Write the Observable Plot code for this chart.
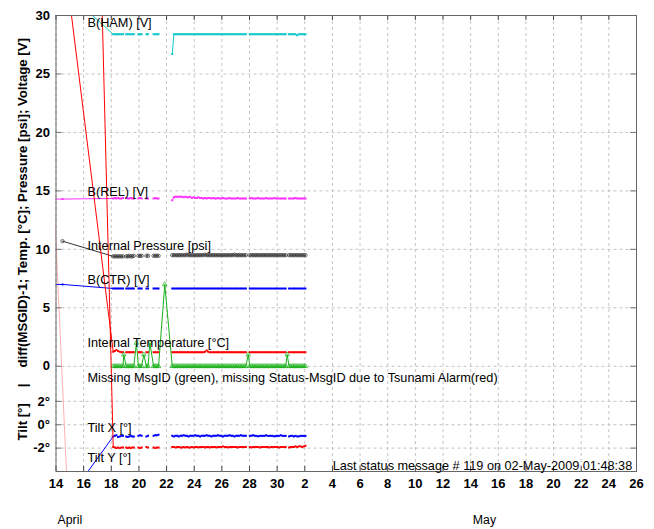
<!DOCTYPE html>
<html><head><meta charset="utf-8">
<script src="https://cdn.jsdelivr.net/npm/d3@7"></script>
<script src="https://cdn.jsdelivr.net/npm/@observablehq/plot@0.6"></script>
<style>html,body{margin:0;padding:0;background:#fff} svg{display:block}</style>
</head><body><div id="chart"></div>
<script>
// ---------- axis ticks & labels (day numbers: April d = d, May d = 30 + d) ----------
const xTicks = [14,16,18,20,22,24,26,28,30,32,34,36,38,40,42,44,46,48,50,52,54,56];
const xTickLabels = ["14","16","18","20","22","24","26","28","30","2","4","6","8","10","12","14","16","18","20","22","24","26"];
const monthLabels = ["April", "May"];
const monthLabelDays = [15, 45];
const yTicks = [30, 25, 20, 15, 10, 5, 0];
const yTickLabels = ["30", "25", "20", "15", "10", "5", "0"];
const tiltTicks = [2, 0, -2];
const tiltTickLabels = ["2°", "0°", "-2°"];

// ---------- readings before deployment ----------
const preDays  = [13.3, 14.47, 14.85];
const preHam   = [null, 32.3, null];
const preRel   = [14.3, 14.3, null];
const prePress = [null, 10.7, null];
const preCtr   = [7.0, 7.0, null];
const preTemp  = [null, 36.2, null];
const preTiltX = [null, null, -6.4];
const preTiltY = [null, 169, null];
const alarmDays = [13.9, 14.85];
const alarmVals = [13.2, -11.4];

// ---------- status messages (null = telemetry gap) ----------
const msgDays = [
  18.14, 18.26, 18.37, 18.49, 18.61, 18.73, 18.85, null,
  19.08, 19.19, 19.30, 19.41, 19.52, 19.63, null,
  19.96, 20.08, 20.20, null,
  20.54, 20.66, null,
  21.06, 21.18, 21.30, 21.42, null,
  22.41, 22.53, 22.65, 22.77, 22.88, 23.00, 23.12, 23.24, 23.36, 23.48, 23.59, 23.71,
  23.83, 23.95, 24.07, 24.19, 24.30, 24.42, 24.54, 24.66, 24.78, 24.90, 25.01, 25.13,
  25.25, 25.37, 25.49, 25.61, 25.72, 25.84, 25.96, 26.08, 26.20, 26.32, 26.43, 26.55,
  26.67, 26.79, 26.91, 27.03, 27.14, 27.26, 27.38, 27.50, 27.62, 27.74, null,
  28.02, 28.14, 28.26, 28.38, 28.49, 28.61, 28.73, 28.85, 28.97, 29.09, 29.20, 29.32,
  29.44, 29.56, 29.68, 29.80, 29.91, 30.03, 30.15, 30.27, 30.39, 30.51, 30.62, null,
  30.86, 30.98, 31.10, 31.22, 31.33, 31.45, 31.57, 31.69, 31.81, 31.93, 32.05
];
const hamV = [
  28.4, 28.4, 28.4, 28.4, 28.4, 28.4, 28.4, null,
  28.4, 28.4, 28.4, 28.4, 28.4, 28.4, null,
  28.4, 28.4, 28.4, null,
  28.4, 28.4, null,
  28.4, 28.4, 28.4, 28.4, null,
  26.7, 28.4, 28.4, 28.4, 28.4, 28.4, 28.4, 28.4, 28.4, 28.4, 28.4, 28.4,
  28.4, 28.4, 28.4, 28.4, 28.4, 28.4, 28.4, 28.4, 28.4, 28.4, 28.4, 28.4,
  28.4, 28.4, 28.4, 28.4, 28.4, 28.4, 28.4, 28.4, 28.4, 28.4, 28.4, 28.4,
  28.4, 28.4, 28.4, 28.4, 28.4, 28.4, 28.4, 28.4, 28.4, 28.4, null,
  28.4, 28.4, 28.4, 28.4, 28.4, 28.4, 28.4, 28.4, 28.4, 28.4, 28.4, 28.4,
  28.4, 28.4, 28.4, 28.4, 28.4, 28.4, 28.4, 28.4, 28.4, 28.4, 28.4, null,
  28.4, 28.4, 28.4, 28.4, 28.4, 28.3, 28.4, 28.4, 28.4, 28.4, 28.4
];
const relV = [
  14.35, 14.4, 14.35, 14.4, 14.35, 14.35, 14.4, null,
  14.4, 14.35, 14.35, 14.4, 14.35, 14.35, null,
  14.35, 14.4, 14.35, null,
  14.35, 14.35, null,
  14.35, 14.4, 14.35, 14.35, null,
  14.2, 14.45, 14.5, 14.5, 14.5, 14.5, 14.5, 14.45, 14.5, 14.45, 14.45, 14.5,
  14.4, 14.45, 14.4, 14.4, 14.45, 14.4, 14.4, 14.35, 14.4, 14.35, 14.4, 14.4,
  14.35, 14.4, 14.35, 14.35, 14.4, 14.35, 14.35, 14.4, 14.35, 14.35, 14.35, 14.4,
  14.35, 14.35, 14.35, 14.35, 14.4, 14.35, 14.35, 14.35, 14.35, 14.35, null,
  14.35, 14.4, 14.35, 14.35, 14.35, 14.4, 14.35, 14.35, 14.35, 14.35, 14.4, 14.35,
  14.35, 14.35, 14.35, 14.4, 14.35, 14.35, 14.35, 14.35, 14.35, 14.35, 14.35, null,
  14.35, 14.35, 14.35, 14.35, 14.4, 14.35, 14.35, 14.35, 14.35, 14.35, 14.35
];
const pressV = [
  9.4, 9.4, 9.4, 9.4, 9.4, 9.4, 9.4, null,
  9.4, 9.4, 9.45, 9.4, 9.4, 9.45, null,
  9.45, 9.45, 9.45, null,
  9.45, 9.45, null,
  9.45, 9.45, 9.45, 9.45, null,
  9.5, 9.5, 9.5, 9.5, 9.5, 9.5, 9.5, 9.5, 9.5, 9.55, 9.5, 9.5,
  9.5, 9.5, 9.5, 9.5, 9.5, 9.5, 9.5, 9.5, 9.55, 9.5, 9.5, 9.5,
  9.5, 9.5, 9.5, 9.5, 9.5, 9.5, 9.5, 9.5, 9.5, 9.5, 9.5, 9.5,
  9.5, 9.5, 9.55, 9.5, 9.5, 9.5, 9.5, 9.5, 9.5, 9.5, null,
  9.5, 9.5, 9.5, 9.5, 9.5, 9.5, 9.5, 9.5, 9.5, 9.5, 9.5, 9.5,
  9.5, 9.5, 9.5, 9.5, 9.5, 9.5, 9.5, 9.5, 9.5, 9.5, 9.5, null,
  9.5, 9.5, 9.5, 9.5, 9.5, 9.5, 9.5, 9.5, 9.5, 9.5, 9.5
];
const ctrV = [
  6.65, 6.65, 6.65, 6.65, 6.65, 6.65, 6.65, null,
  6.65, 6.65, 6.65, 6.65, 6.65, 6.65, null,
  6.65, 6.65, 6.65, null,
  6.65, 6.65, null,
  6.65, 6.65, 6.65, 6.65, null,
  6.65, 6.65, 6.65, 6.65, 6.65, 6.65, 6.65, 6.65, 6.65, 6.65, 6.65, 6.65,
  6.65, 6.65, 6.65, 6.65, 6.65, 6.65, 6.65, 6.65, 6.65, 6.65, 6.65, 6.65,
  6.65, 6.65, 6.65, 6.65, 6.65, 6.65, 6.65, 6.65, 6.65, 6.65, 6.65, 6.65,
  6.65, 6.65, 6.65, 6.65, 6.65, 6.65, 6.65, 6.65, 6.65, 6.65, null,
  6.65, 6.65, 6.65, 6.65, 6.65, 6.65, 6.65, 6.65, 6.65, 6.65, 6.65, 6.65,
  6.65, 6.65, 6.65, 6.65, 6.65, 6.65, 6.65, 6.65, 6.65, 6.65, 6.65, null,
  6.65, 6.65, 6.65, 6.65, 6.65, 6.65, 6.65, 6.65, 6.65, 6.65, 6.65
];
const tempV = [
  1.25, 1.3, 1.4, 1.3, 1.25, 1.2, 1.2, null,
  1.2, 1.2, 1.2, 1.2, 1.2, 1.2, null,
  1.2, 1.2, 1.2, null,
  1.2, 1.2, null,
  1.2, 1.2, 1.2, 1.2, null,
  1.2, 1.2, 1.2, 1.2, 1.2, 1.2, 1.2, 1.2, 1.2, 1.2, 1.2, 1.2,
  1.2, 1.2, 1.2, 1.2, 1.2, 1.2, 1.2, 1.2, 1.25, 1.35, 1.25, 1.2,
  1.2, 1.2, 1.2, 1.2, 1.2, 1.2, 1.2, 1.2, 1.2, 1.2, 1.2, 1.2,
  1.2, 1.2, 1.2, 1.2, 1.2, 1.2, 1.2, 1.2, 1.2, 1.2, null,
  1.2, 1.2, 1.2, 1.2, 1.2, 1.2, 1.2, 1.2, 1.2, 1.2, 1.2, 1.2,
  1.2, 1.2, 1.2, 1.2, 1.2, 1.2, 1.2, 1.2, 1.2, 1.2, 1.2, null,
  1.2, 1.2, 1.2, 1.2, 1.2, 1.2, 1.2, 1.2, 1.2, 1.2, 1.2
];
const missingAtMsg = [
  0, 0, 0, 0, 0, 0, 0, null,
  0, 0, 0, 0, 0, 0, null,
  0, 0, 0, null,
  0, 0, null,
  0, 0, 0, 0, null,
  0, 0, 0, 0, 0, 0, 0, 0, 0, 0, 0, 0,
  0, 0, 0, 0, 0, 0, 0, 0, 0, 0, 0, 0,
  0, 0, 0, 0, 0, 0, 0, 0, 0, 0, 0, 0,
  0, 0, 0, 0, 0, 0, 0, 0, 0, 0, null,
  0, 0, 0, 0, 0, 0, 0, 0, 0, 0, 0, 0,
  0, 0, 0, 0, 0, 0, 0, 0, 0, 0, 0, null,
  0, 0, 0, 0, 0, 0, 0, 0, 0, 0, 0
];
const gapMidDays = [18.9, 19.82, 20.35, 20.79, 21.87, 27.91, 30.73];
const missingCounts = [1, 2, 1, 2, 7, 1, 1];
const tiltXV = [
  -1.0, -0.95, -0.9, -1.05, -1.0, -0.95, -0.95, null,
  -1.0, -1.05, -1.0, -0.95, -1.0, -1.0, null,
  -0.95, -0.9, -0.95, null,
  -1.0, -0.95, null,
  -0.95, -0.9, -0.9, -0.85, null,
  -0.95, -1.0, -0.95, -0.95, -1.0, -0.95, -0.95, -0.9, -0.95, -0.95, -1.0, -0.95,
  -0.95, -0.95, -0.9, -0.95, -0.95, -1.0, -0.95, -0.95, -0.95, -0.9, -0.95, -0.95,
  -1.0, -0.95, -0.95, -0.95, -0.9, -0.95, -0.95, -1.0, -0.95, -0.95, -0.95, -0.9,
  -0.95, -0.95, -1.0, -0.95, -0.95, -0.95, -0.9, -0.95, -0.95, -0.95, null,
  -0.95, -0.95, -0.9, -0.95, -0.95, -1.0, -0.95, -0.95, -0.95, -0.95, -0.9, -0.95,
  -0.95, -0.95, -0.95, -1.0, -0.95, -0.95, -0.95, -0.9, -0.95, -0.95, -0.95, null,
  -1.0, -0.95, -0.95, -1.0, -0.95, -1.0, -1.0, -0.95, -0.95, -0.95, -0.95
];
const tiltYV = [
  -1.9, -1.95, -2.0, -1.95, -2.0, -1.95, -1.95, null,
  -1.95, -2.0, -1.95, -2.0, -1.95, -1.95, null,
  -1.95, -2.0, -1.95, null,
  -1.9, -1.95, null,
  -1.95, -2.0, -1.95, -1.95, null,
  -1.9, -1.9, -1.95, -1.9, -1.9, -1.95, -1.95, -1.9, -1.95, -1.9, -1.95, -1.95,
  -1.9, -1.95, -1.9, -1.9, -1.95, -1.9, -1.9, -1.9, -1.95, -1.9, -1.9, -1.95,
  -1.9, -1.9, -1.9, -1.95, -1.9, -1.9, -1.9, -1.85, -1.9, -1.9, -1.95, -1.9,
  -1.9, -1.9, -1.9, -1.9, -1.95, -1.9, -1.9, -1.9, -1.9, -1.9, null,
  -1.9, -1.95, -1.9, -1.9, -1.9, -1.9, -1.95, -1.9, -1.9, -1.9, -1.9, -1.9,
  -1.95, -1.9, -1.9, -1.9, -1.9, -1.9, -1.95, -1.9, -1.9, -1.9, -1.9, null,
  -1.95, -1.9, -1.9, -1.9, -1.85, -1.9, -1.85, -1.85, -1.9, -1.85, -1.8
];

const seriesLabels = ["B(HAM) [V]", "B(REL) [V]", "Internal Pressure [psi]", "B(CTR) [V]",
  "Internal Temperature [°C]", "Missing MsgID (green), missing Status-MsgID due to Tsunami Alarm(red)",
  "Tilt X [°]", "Tilt Y [°]"];
const footerText = "Last status message # 119 on 02-May-2009 01:48:38";
const yTitleParts = ["Tilt [°]", "|", "diff(MSGID)-1; Temp. [°C]; Pressure [psi]; Voltage [V]"];

// ---------- build rows ----------
const TILT_SHIFT = -5; // tilt panel sits 5 units below the main zero
function build(pre, vals, shift = 0) {
  const rows = [];
  preDays.forEach((d, i) => { if (pre[i] != null) rows.push({day: d, v: pre[i] + shift}); });
  msgDays.forEach((d, i) => rows.push({day: d, v: vals[i] == null ? NaN : vals[i] + shift}));
  return rows;
}
const green = [];
msgDays.forEach((d, i) => { if (d != null) green.push({day: d, v: missingAtMsg[i]}); });
gapMidDays.forEach((d, i) => green.push({day: d, v: missingCounts[i]}));
green.sort((a, b) => a.day - b.day);
const alarm = alarmDays.map((d, i) => ({day: d, v: alarmVals[i]}));

const series = [
  {rows: build(preHam, hamV), color: "#10c8c8", sym: "square"},
  {rows: build(preRel, relV), color: "#ff30ff", sym: "square"},
  {rows: build(prePress, pressV), color: "#333", sym: "circle", open: true, r: 1.7},
  {rows: build(preCtr, ctrV), color: "#0000ff", sym: "square"},
  {rows: build(preTemp, tempV), color: "#ff0000", sym: "square"},
  {rows: green, color: "#18b018", sym: "triangle", open: true, r: 1.7},
  {rows: build(preTiltX, tiltXV, TILT_SHIFT), color: "#0000ff", sym: "square"},
  {rows: build(preTiltY, tiltYV, TILT_SHIFT), color: "#ff0000", sym: "square"}
];

const yAllTicks = [...yTicks, ...tiltTicks.map(t => t + TILT_SHIFT)];
const yAllLabels = [...yTickLabels, ...tiltTickLabels];

const FW = 654 - 55.5 - 18, FH = 529 - 15 - 58;
const marks = [
  Plot.gridX(xTicks, {stroke: "#c4c4c4", strokeOpacity: 1, strokeDasharray: "3,3"}),
  Plot.gridY(yAllTicks, {stroke: "#c4c4c4", strokeOpacity: 1, strokeDasharray: "3,3"}),
  Plot.line(alarm, {x: "day", y: "v", stroke: "#ffb0b0", strokeWidth: 1, clip: true})
];
for (const s of series) {
  marks.push(Plot.line(s.rows, {x: "day", y: "v", stroke: s.color, strokeWidth: 1, clip: true}));
  if (s.open) {
    marks.push(Plot.dot(s.rows, {x: "day", y: "v", symbol: s.sym, r: s.r, fill: "none", stroke: s.color, strokeWidth: 0.7, clip: true}));
  } else {
    marks.push(Plot.dot(s.rows, {x: "day", y: "v", symbol: s.sym, r: 1.1, fill: s.color, stroke: "none", clip: true}));
  }
}
// inward tick marks on all four sides
marks.push(
  Plot.ruleY(yAllTicks, {stroke: "#777", insetRight: FW - 6}),
  Plot.ruleY(yAllTicks, {stroke: "#777", insetLeft: FW - 6}),
  Plot.ruleX(xTicks, {stroke: "#444", insetBottom: FH - 5}),
  Plot.ruleX(xTicks, {stroke: "#444", insetTop: FH - 5}),
  Plot.frame({stroke: "#666"})
);
// series annotations
const labelBaselines = [26.5, 195.5, 249, 283, 346.5, 381.5, 431, 461.5];
seriesLabels.forEach((t, i) => {
  marks.push(Plot.text([t], {text: d => d, frameAnchor: "top-left", dx: 87 - 55.5, dy: labelBaselines[i] - 15,
    textAnchor: "start", lineAnchor: "bottom", fontSize: 12.7, fill: "#000"}));
});
marks.push(Plot.text([footerText], {text: d => d, frameAnchor: "top-right", dx: -4.3, dy: 469.5 - 15,
  textAnchor: "end", lineAnchor: "bottom", fontSize: 12.7, fill: "#000"}));
// axes
marks.push(
  Plot.axisX(xTicks, {anchor: "bottom", tickSize: 0, tickPadding: 7, label: null,
    tickFormat: d => xTickLabels[xTicks.indexOf(d)], fontWeight: "bold", fontSize: 13, fill: "#000"}),
  Plot.axisY(yAllTicks, {anchor: "left", tickSize: 0, tickPadding: 6, label: null,
    tickFormat: d => yAllLabels[yAllTicks.indexOf(d)], fontWeight: "bold", fontSize: 13, fill: "#000"}),
  Plot.text(monthLabels, {text: d => d, x: (d, i) => monthLabelDays[i], frameAnchor: "bottom", dy: 52,
    lineAnchor: "bottom", textAnchor: "middle", fontSize: 12.3, fill: "#000"})
);
// rotated y title
const titleDy = [440 - 15, 385 - 15, 367 - 15];
const titleAnchor = ["start", "middle", "start"];
yTitleParts.forEach((t, i) => {
  marks.push(Plot.text([t], {text: d => d, frameAnchor: "top-left", dx: 22.2 - 55.5, dy: titleDy[i],
    rotate: -90, textAnchor: titleAnchor[i], lineAnchor: "middle", fontWeight: "bold", fontSize: 13.2, fill: "#000"}));
});

const chart = Plot.plot({
  width: 654, height: 529,
  marginLeft: 55.5, marginRight: 18, marginTop: 15, marginBottom: 58,
  x: {type: "linear", domain: [14, 56]},
  y: {type: "linear", domain: [-9, 30]},
  style: {fontFamily: "'Liberation Sans', Arial, sans-serif", fontSize: "12.7px", background: "#fff", color: "#000"},
  marks
});
document.getElementById("chart").appendChild(chart);
</script></body></html>
